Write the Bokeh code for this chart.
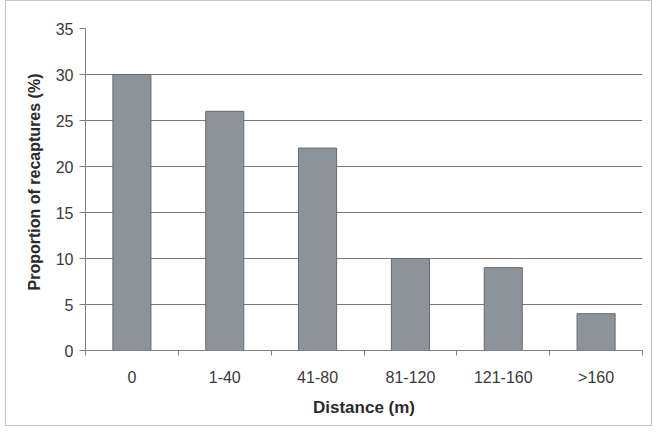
from bokeh.plotting import figure
from bokeh.models import ColumnDataSource, FixedTicker, Range1d, Title
from bokeh.embed import file_html
from bokeh.resources import INLINE

categories = ["0", "1-40", "41-80", "81-120", "121-160", ">160"]
values = [30, 26, 22, 10, 9, 4]
y_ticks = [0, 5, 10, 15, 20, 25, 30, 35]

n = len(categories)
centers = [i + 0.5 for i in range(n)]
bounds = list(range(n + 1))

src = ColumnDataSource(dict(x=centers, top=values, label=categories))

W, H = 647, 426
p = figure(width=W, height=H, output_backend="svg", toolbar_location=None,
           x_range=Range1d(0, n), y_range=Range1d(0, 35))
p.min_border_left = 79
p.min_border_right = 11
p.min_border_top = 27
p.min_border_bottom = 77
p.outline_line_color = None
p.background_fill_color = "white"
p.border_fill_color = "white"
p.styles = {"border": "1.5px solid #c4c4c4", "box-sizing": "border-box",
            "margin-left": "5px"}

p.vbar(x="x", top="top", width=0.41, bottom=0, source=src,
       fill_color="#8c9499", line_color="#66696c", line_width=1)

font = "Liberation Sans"
# x axis
xa = p.xaxis[0]
xa.ticker = FixedTicker(ticks=centers, minor_ticks=bounds)
xa.major_label_overrides = {c: l for c, l in zip(centers, categories)}
xa.major_tick_line_color = None
xa.minor_tick_line_color = "#808080"
xa.minor_tick_in = 0
xa.minor_tick_out = 5
xa.axis_line_color = "#808080"
xa.axis_label = "Distance (m)"
xa.axis_label_text_font = font
xa.axis_label_text_font_style = "bold"
xa.axis_label_text_font_size = "17px"
xa.axis_label_text_color = "#2b2b2b"
xa.axis_label_standoff = 9
xa.major_label_text_font = font
xa.major_label_text_font_size = "16px"
xa.major_label_text_color = "#3a3a3a"
xa.major_label_standoff = 12

ya = p.yaxis[0]
ya.ticker = FixedTicker(ticks=y_ticks)
ya.minor_tick_line_color = None
ya.major_tick_line_color = "#808080"
ya.major_tick_in = 0
ya.major_tick_out = 6
ya.axis_line_color = "#808080"
ya.major_label_text_font = font
ya.major_label_text_font_size = "16px"
ya.major_label_text_color = "#3a3a3a"
ya.major_label_standoff = 6

ytitle = Title(text="Proportion of recaptures (%)", align="right", offset=45,
               text_font=font, text_font_style="bold", text_font_size="16px",
               text_color="#2b2b2b", standoff=20)
p.add_layout(ytitle, "left")

p.xgrid.grid_line_color = None
p.ygrid.ticker = FixedTicker(ticks=y_ticks)
p.ygrid.grid_line_color = "#7a7a7a"
p.ygrid.grid_line_width = 1

open("out.html", "w").write(file_html(p, INLINE))
